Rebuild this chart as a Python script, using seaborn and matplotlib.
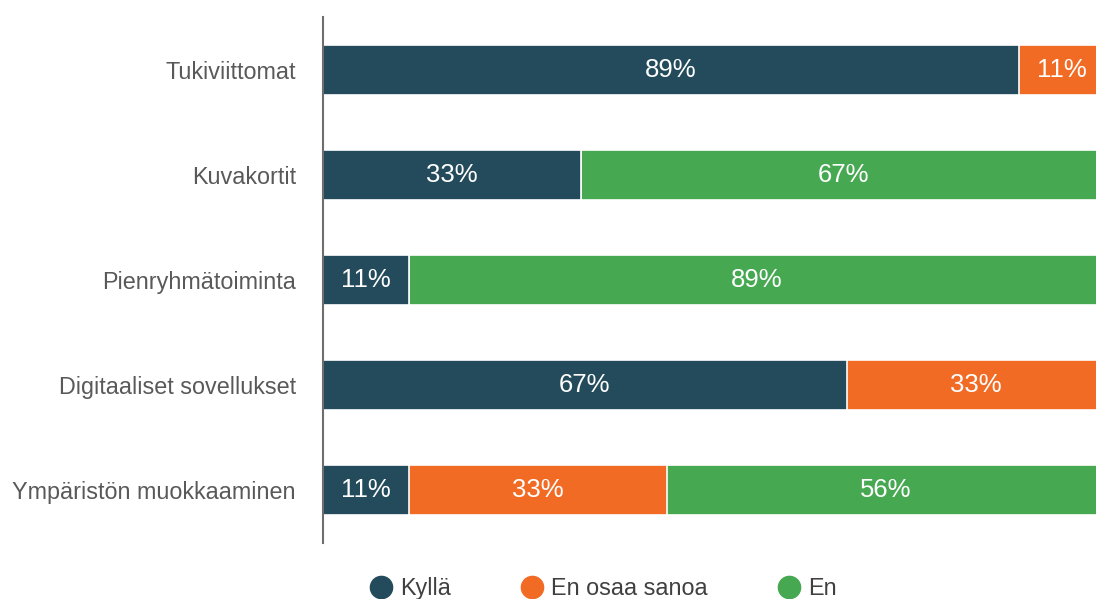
import matplotlib
matplotlib.use("Agg")
import matplotlib.pyplot as plt
import seaborn as sns
import pandas as pd
import numpy as np
from matplotlib.lines import Line2D

categories = ["Tukiviittomat", "Kuvakortit", "Pienryhmätoiminta",
              "Digitaaliset sovellukset", "Ympäristön muokkaaminen"]
series_names = ["Kyllä", "En osaa sanoa", "En"]
kylla = [89, 33, 11, 67, 11]
en_osaa = [11, 0, 0, 33, 33]
en = [0, 67, 89, 0, 56]
colors = ["#234B5B", "#F26B24", "#46A851"]

sns.set_theme(style="white")
plt.rcParams['font.family'] = ['Liberation Sans', 'DejaVu Sans']

fig = plt.figure(figsize=(10.96, 5.99), dpi=100)
ax = fig.add_axes([323/1096, (599-543)/599, (1096-323)/1096, (543-17)/599])

vals = np.array([kylla, en_osaa, en], dtype=float)
cum = np.cumsum(vals, axis=0)
for i in range(2, -1, -1):
    df = pd.DataFrame({"cat": categories, "v": cum[i]})
    sns.barplot(data=df, y="cat", x="v", orient="h", color=colors[i],
                saturation=1, width=0.475, edgecolor="white", linewidth=1.2, ax=ax)

for i in range(3):
    for j, c in enumerate(categories):
        v = vals[i][j]
        if v > 0:
            start = cum[i][j] - v
            ax.text(start + v/2, j, f"{int(v)}%", ha="center", va="center",
                    color="white", fontsize=18.5)

# the chart is cropped slightly at the right edge
ax.set_xlim(0, 98.85)
ax.set_ylim(4.5, -0.5)
ax.set_xlabel("")
ax.set_ylabel("")
ax.set_xticks([])
ax.tick_params(axis="y", length=0, pad=19.5, labelsize=16.8, labelcolor="#595959")
for s in ["top", "right", "bottom"]:
    ax.spines[s].set_visible(False)
ax.spines["left"].set_color("#6E6E6E")
ax.spines["left"].set_linewidth(1.5)

handles = [Line2D([0], [0], marker="o", linestyle="", markersize=16,
                  markerfacecolor=c, markeredgecolor=c) for c in colors]
fig.legend(handles, series_names, loc="center", bbox_to_anchor=(0.549, 0.018),
           ncol=3, frameon=False, fontsize=16.8, columnspacing=2.9,
           handlelength=1.2, handletextpad=0.2, labelcolor="#404040")

fig.savefig("out.png", dpi=100)
